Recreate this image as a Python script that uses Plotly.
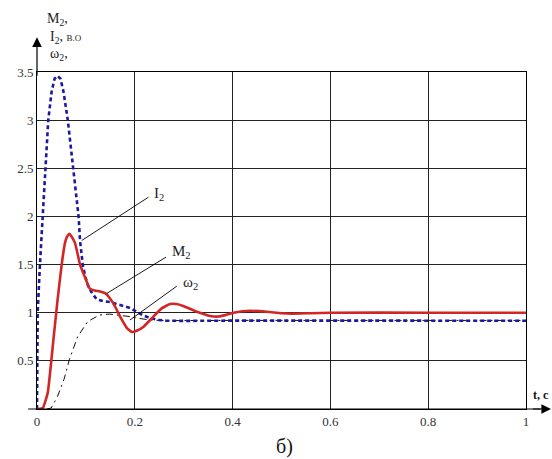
import plotly.graph_objects as go

# ---- data ----
t_I2 = [0, 0.0014, 0.006, 0.0117, 0.0164, 0.023, 0.030, 0.036, 0.042, 0.048, 0.054,
        0.063, 0.074, 0.085, 0.088, 0.0935, 0.099, 0.105, 0.113, 0.122, 0.135, 0.15,
        0.17, 0.19, 0.204, 0.218, 0.231, 0.248, 0.265, 0.3, 0.4, 0.6, 0.8, 1.0]
I2 = [0, 1.0, 1.5, 2.0, 2.5, 3.0, 3.3, 3.43, 3.46, 3.43, 3.3,
      3.0, 2.5, 2.0, 1.75, 1.5, 1.37, 1.27, 1.2, 1.14, 1.12, 1.11,
      1.08, 1.05, 1.01, 0.97, 0.945, 0.925, 0.917, 0.915, 0.918, 0.917, 0.917, 0.917]

t_M2 = [0, 0.006, 0.012, 0.022, 0.029, 0.035, 0.042, 0.0505, 0.057, 0.0615, 0.066,
        0.071, 0.078, 0.088, 0.098, 0.108, 0.118, 0.129, 0.14, 0.149, 0.16, 0.17,
        0.184, 0.194, 0.205, 0.218, 0.238, 0.255, 0.272, 0.285, 0.299, 0.327, 0.354,
        0.371, 0.385, 0.402, 0.42, 0.436, 0.47, 0.5, 0.52, 0.56, 0.6, 0.8, 1.0]
M2 = [0, 0.003, 0.01, 0.17, 0.49, 0.79, 1.13, 1.5, 1.72, 1.79, 1.82,
      1.79, 1.72, 1.5, 1.37, 1.25, 1.23, 1.22, 1.2, 1.15, 1.06, 0.96,
      0.84, 0.80, 0.815, 0.855, 0.96, 1.045, 1.09, 1.09, 1.07, 1.01, 0.966,
      0.96, 0.975, 1.0, 1.015, 1.02, 1.01, 0.995, 0.99, 0.995, 1.0, 1.0, 1.0]

t_w2 = [0.02, 0.029, 0.042, 0.056, 0.066, 0.083, 0.104, 0.128, 0.148, 0.168, 0.19,
        0.21, 0.23, 0.26, 0.3, 0.4, 0.6, 0.8, 1.0]
w2 = [0, 0.01, 0.13, 0.32, 0.51, 0.75, 0.91, 0.976, 0.986, 0.976, 0.96,
      0.94, 0.925, 0.918, 0.92, 0.92, 0.92, 0.92, 0.92]

x_ticks = [0, 0.2, 0.4, 0.6, 0.8, 1.0]
x_ticktext = ["0", "0.2", "0.4", "0.6", "0.8", "1"]
y_ticks = [0.5, 1.0, 1.5, 2.0, 2.5, 3.0, 3.5]
y_ticktext = ["0.5", "1", "1.5", "2", "2.5", "3", "3.5"]

SERIF = "Liberation Serif, Times New Roman, serif"

fig = go.Figure()
fig.add_trace(go.Scatter(x=t_w2, y=w2, mode="lines",
                         line=dict(color="#111111", width=1, dash="7px,4px,2px,4px")))
fig.add_trace(go.Scatter(x=t_I2, y=I2, mode="lines",
                         line=dict(color="#1a1a9c", width=2.6, dash="4px,3px")))
fig.add_trace(go.Scatter(x=t_M2, y=M2, mode="lines",
                         line=dict(color="#d22626", width=2.6, shape="spline", smoothing=0.4)))

axis_common = dict(showgrid=True, gridcolor="#222222", gridwidth=1, zeroline=False,
                   showline=True, mirror=True, linecolor="#000000", linewidth=1,
                   ticks="", tickfont=dict(family=SERIF, size=13, color="#333333"))
fig.update_xaxes(range=[0, 1], tickvals=x_ticks, ticktext=x_ticktext, **axis_common)
fig.update_yaxes(range=[0, 3.5], tickvals=y_ticks, ticktext=y_ticktext, **axis_common)

# extended x axis line with arrow
fig.add_shape(type="line", xref="paper", yref="paper", x0=-0.018, x1=1.03, y0=0, y1=0,
              line=dict(color="#000000", width=1))
fig.add_annotation(xref="paper", yref="paper", x=1.052, y=0, ax=-20, ay=0, text="",
                   showarrow=True, arrowhead=2, arrowsize=1.6, arrowwidth=1.2, arrowcolor="#000")
fig.add_annotation(xref="paper", yref="paper", x=0, y=1.103, ax=0, ay=40, text="",
                   showarrow=True, arrowhead=2, arrowsize=1.6, arrowwidth=1.2, arrowcolor="#000")

# leader lines
leaders = [((0.0915, 1.75), (0.231, 2.21)),
           ((0.1426, 1.20), (0.267, 1.587)),
           ((0.19, 0.924), (0.289, 1.287))]
for (hx, hy), (tx, ty) in leaders:
    fig.add_annotation(x=hx, y=hy, ax=tx, ay=ty, xref="x", yref="y", axref="x", ayref="y",
                       text="", showarrow=True, arrowhead=0, arrowwidth=0.9,
                       arrowcolor="#000000", standoff=0, startstandoff=0)

labels = [("I<sub>2</sub>", 0.235, 2.23),
          ("M<sub>2</sub>", 0.271, 1.63),
          ("ω<sub>2</sub>", 0.294, 1.31)]
for txt, lx, ly in labels:
    fig.add_annotation(x=lx, y=ly, xref="x", yref="y", text=txt, showarrow=False,
                       xanchor="left", yanchor="middle",
                       font=dict(family=SERIF, size=15, color="#222222"))

# axis titles
fig.add_annotation(xref="paper", yref="paper", x=(45 - 37) / 488.7, y=(409.3 - 19) / 337.8,
                   text="M<sub>2</sub>,", showarrow=False, xanchor="left", yanchor="middle",
                   font=dict(family=SERIF, size=14, color="#222222"))
fig.add_annotation(xref="paper", yref="paper", x=(48 - 37) / 488.7, y=(409.3 - 37) / 337.8,
                   text="I<sub>2</sub>, <span style='font-size:9px'>В.О</span>", showarrow=False,
                   xanchor="left", yanchor="middle",
                   font=dict(family=SERIF, size=14, color="#222222"))
fig.add_annotation(xref="paper", yref="paper", x=(48 - 37) / 488.7, y=(409.3 - 54) / 337.8,
                   text="ω<sub>2</sub>,", showarrow=False, xanchor="left", yanchor="middle",
                   font=dict(family=SERIF, size=14, color="#222222"))
fig.add_annotation(xref="paper", yref="paper", x=(550 - 37) / 488.7, y=(409.3 - 395) / 337.8,
                   text="<b>t, c</b>", showarrow=False, xanchor="right", yanchor="middle",
                   borderpad=0, font=dict(family=SERIF, size=12, color="#111111"))
fig.add_annotation(xref="paper", yref="paper", x=(284 - 37) / 488.7, y=(409.3 - 447) / 337.8,
                   text="б)", showarrow=False, xanchor="center", yanchor="middle",
                   borderpad=0, font=dict(family=SERIF, size=20, color="#111111"))

fig.update_layout(width=552, height=459, showlegend=False,
                  margin=dict(l=37, r=26.3, t=71.5, b=49.7, pad=0),
                  paper_bgcolor="white", plot_bgcolor="white")

# remove the default page margin so the figure fills the window exactly
fig.write_html("out.html", config={"displayModeBar": False},
               post_script="document.body.style.margin='0';document.body.style.overflow='hidden';")
